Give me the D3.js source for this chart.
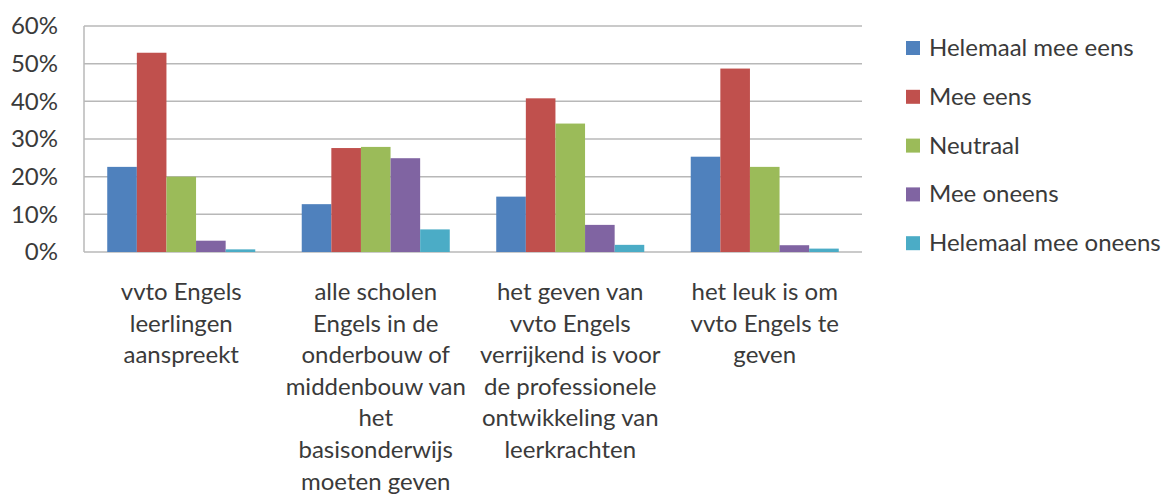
<!DOCTYPE html>
<html>
<head>
<meta charset="utf-8">
<script src="https://cdn.jsdelivr.net/npm/d3@7"></script>
<style>
  body { margin: 0; background: #fff; }
  svg text { font-family: Lato, "Open Sans", sans-serif; fill: #3a3a3a; }
</style>
</head>
<body>
<svg id="chart" width="1169" height="503"></svg>
<script>
// data
const categories = ['c1', 'c2', 'c3', 'c4'];
const categoryLines = [
  ['vvto Engels', 'leerlingen', 'aanspreekt'],
  ['alle scholen', 'Engels in de', 'onderbouw of', 'middenbouw van', 'het', 'basisonderwijs', 'moeten geven'],
  ['het geven van', 'vvto Engels', 'verrijkend is voor', 'de professionele', 'ontwikkeling van', 'leerkrachten'],
  ['het leuk is om', 'vvto Engels te', 'geven']
];
const seriesNames = ['Helemaal mee eens', 'Mee eens', 'Neutraal', 'Mee oneens', 'Helemaal mee oneens'];
const seriesColors = ['#4F81BD', '#C0504D', '#9BBB59', '#8064A2', '#4BACC6'];
const helemaalMeeEens = [22.6, 12.7, 14.7, 25.3];
const meeEens = [52.9, 27.6, 40.8, 48.7];
const neutraal = [20.0, 27.9, 34.1, 22.6];
const meeOneens = [3.0, 24.9, 7.2, 1.8];
const helemaalMeeOneens = [0.7, 6.0, 1.9, 0.9];
const yTicks = [0, 10, 20, 30, 40, 50, 60];

const values = [helemaalMeeEens, meeEens, neutraal, meeOneens, helemaalMeeOneens];

const svg = d3.select('#chart');
const plotLeft = 84, plotRight = 862, plotTop = 26, plotBottom = 252;
const fontSize = '24px';

const x = d3.scaleBand().domain(categories).range([plotLeft, plotRight]).paddingInner(0).paddingOuter(0);
const x1 = d3.scaleBand().domain(d3.range(seriesNames.length))
  .range([0, x.bandwidth()]).paddingInner(0).paddingOuter(0.785);
const y = d3.scaleLinear().domain([0, 60]).range([plotBottom, plotTop]);

// gridlines
svg.append('g')
  .selectAll('line')
  .data(yTicks)
  .enter()
  .append('line')
  .attr('x1', plotLeft)
  .attr('x2', plotRight)
  .attr('y1', d => y(d))
  .attr('y2', d => y(d))
  .attr('stroke', '#b8b8b8')
  .attr('stroke-width', 1.5);

// left axis line
svg.append('line')
  .attr('x1', plotLeft).attr('x2', plotLeft)
  .attr('y1', plotTop).attr('y2', plotBottom)
  .attr('stroke', '#b8b8b8')
  .attr('stroke-width', 1.5);

// y labels
svg.append('g')
  .selectAll('text')
  .data(yTicks)
  .enter()
  .append('text')
  .attr('x', 58)
  .attr('y', d => y(d))
  .attr('dy', '0.35em')
  .attr('text-anchor', 'end')
  .style('font-size', fontSize)
  .text(d => d + '%');

// bars
const groups = svg.append('g')
  .selectAll('g')
  .data(categories)
  .enter()
  .append('g')
  .attr('transform', d => `translate(${x(d)},0)`);

groups.selectAll('rect')
  .data((d, ci) => values.map((s, si) => ({ si, v: s[ci] })))
  .enter()
  .append('rect')
  .attr('x', d => x1(d.si))
  .attr('width', x1.bandwidth())
  .attr('y', d => y(d.v))
  .attr('height', d => plotBottom - y(d.v))
  .attr('fill', d => seriesColors[d.si]);

// category labels
const lineH = 31.6;
svg.append('g')
  .selectAll('text')
  .data(categories)
  .enter()
  .append('text')
  .attr('text-anchor', 'middle')
  .style('font-size', fontSize)
  .each(function (d, i) {
    d3.select(this)
      .selectAll('tspan')
      .data(categoryLines[i])
      .enter()
      .append('tspan')
      .attr('x', x(d) + x.bandwidth() / 2)
      .attr('y', (t, j) => 300 + j * lineH)
      .text(t => t);
  });

// legend
const legend = svg.append('g')
  .selectAll('g')
  .data(seriesNames)
  .enter()
  .append('g')
  .attr('transform', (d, i) => `translate(906,${48 + i * 48.8})`);

legend.append('rect')
  .attr('x', 0)
  .attr('y', -7)
  .attr('width', 14)
  .attr('height', 14)
  .attr('fill', (d, i) => seriesColors[i]);

legend.append('text')
  .attr('x', 23)
  .attr('y', 0)
  .attr('dy', '0.33em')
  .style('font-size', fontSize)
  .text(d => d);
</script>
</body>
</html>
